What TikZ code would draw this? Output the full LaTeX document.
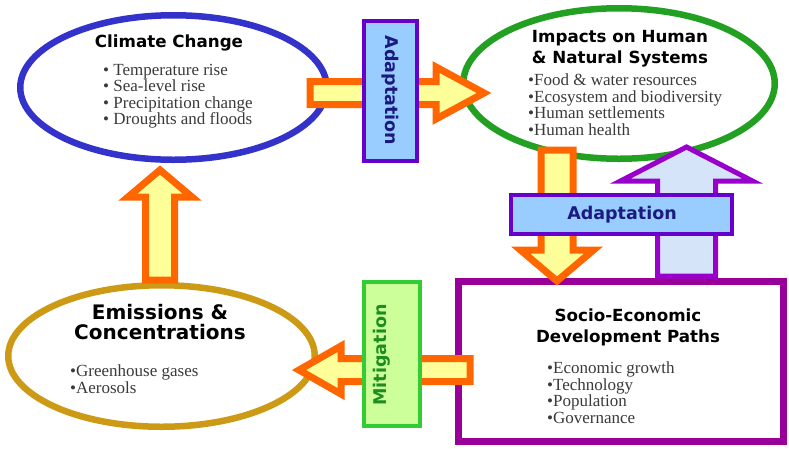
\documentclass[tikz,border=0pt]{standalone}
\usepackage{fontspec}
\setmainfont{Liberation Serif}
\newfontfamily\hfont{DejaVu Sans}
\usetikzlibrary{calc,shapes.geometric}
\definecolor{ccblue}{HTML}{3333CC}
\definecolor{impgreen}{HTML}{22A022}
\definecolor{emgold}{HTML}{CC9A14}
\definecolor{sepurple}{HTML}{990099}
\definecolor{adborder}{HTML}{6600CC}
\definecolor{adfill}{HTML}{99CCFF}
\definecolor{adtext}{HTML}{1A1A80}
\definecolor{miborder}{HTML}{33CC33}
\definecolor{mifill}{HTML}{CCFF99}
\definecolor{mitext}{HTML}{1E8C1E}
\definecolor{arrorange}{HTML}{FF6600}
\definecolor{arryellow}{HTML}{FFFF99}
\definecolor{arrpurple}{HTML}{9900CC}
\definecolor{arrlight}{HTML}{D6E4FA}
\definecolor{bultext}{HTML}{3A3A3A}
% #1 style, #2 start, #3 tip, #4 half shaft width, #5 half head width, #6 head length
\newcommand{\blockarrow}[6]{%
  \coordinate (ba-c) at ($(#3)!#6!(#2)$);
  \draw[#1] ($(#2)!#4!90:(#3)$) -- ($(ba-c)!#4!90:(#3)$) -- ($(ba-c)!#5!90:(#3)$)
    -- (#3) -- ($(ba-c)!#5!-90:(#3)$) -- ($(ba-c)!#4!-90:(#3)$)
    -- ($(#2)!#4!-90:(#3)$) -- cycle;}
\tikzset{
  oval/.style={ellipse, inner sep=0pt, line width=6.5pt},
  orangearrow/.style={draw=arrorange, fill=arryellow, line width=7pt, line join=miter},
  purplearrow/.style={draw=arrpurple, fill=arrlight, line width=5pt, line join=miter},
  adbox/.style={draw=adborder, fill=adfill, line width=4pt, inner sep=0pt},
  mibox/.style={draw=miborder, fill=mifill, line width=4pt, inner sep=0pt},
  title/.style={font=\hfont\bfseries\fontsize{16.7}{21}\selectfont, text=black, align=center},
  bigtitle/.style={font=\hfont\bfseries\fontsize{20}{20}\selectfont, text=black, align=center},
  bul/.style={font=\fontsize{17}{17}\selectfont, text=bultext, anchor=base west, inner sep=0pt},
  adlabel/.style={font=\hfont\bfseries\fontsize{17.5}{17.5}\selectfont, text=adtext},
  milabel/.style={font=\hfont\bfseries\fontsize{17.5}{17.5}\selectfont, text=mitext},
}
\begin{document}
\begin{tikzpicture}[x=1pt, y=-1pt]
\fill[white] (0,0) rectangle (789,448);
\useasboundingbox (0,0) rectangle (789,448);

% main blocks
\node[oval, draw=ccblue, minimum width=306.5pt, minimum height=144.5pt] (cc) at (173.5,87.5) {};
\node[oval, draw=impgreen, minimum width=311.5pt, minimum height=150.5pt] (imp) at (619,83.5) {};
\node[oval, draw=emgold, minimum width=306.5pt, minimum height=141.5pt] (em) at (161.5,356) {};
\node[draw=sepurple, line width=7pt, inner sep=0pt, minimum width=325pt, minimum height=160pt] (se) at (621,361.5) {};

% connector end points
\coordinate (a1s) at (310,93);   \coordinate (a1t) at (484,93);
\coordinate (a2s) at (160,280);  \coordinate (a2t) at (160,170);
\coordinate (a3s) at (470,370);  \coordinate (a3t) at (299,370);
\coordinate (a4s) at (557,150);  \coordinate (a4t) at (557,281);
\coordinate (a5s) at (686.5,276); \coordinate (a5t) at (686.5,147);

\blockarrow{orangearrow}{a1s}{a1t}{11.5pt}{26pt}{48pt}
\blockarrow{orangearrow}{a2s}{a2t}{14.5pt}{32pt}{27pt}
\blockarrow{orangearrow}{a3s}{a3t}{11.5pt}{24pt}{42pt}
\blockarrow{orangearrow}{a4s}{a4t}{16pt}{36.5pt}{31pt}
\blockarrow{purplearrow}{a5s}{a5t}{29pt}{66pt}{34pt}

% label boxes
\node[adbox, minimum width=53pt, minimum height=140pt] (ad1) at (390.5,91) {};
\node[adlabel, rotate=-90] (ad1t) at (390.5,90.5) {Adaptation};
\node[adbox, minimum width=221pt, minimum height=39pt] (ad2) at (621.5,214.5) {};
\node[adlabel] (ad2t) at (622,215) {Adaptation};
\node[mibox, minimum width=56pt, minimum height=144pt] (mi) at (392,354) {};
\node[milabel, rotate=90] (mit) at (382,355) {Mitigation};

% texts
\node[title] (cct) at (169,43) {Climate Change};
\foreach \t [count=\i] in {Temperature rise, Sea-level rise, Precipitation change, Droughts and floods}
  \node[bul] (ccb\i) at (103,{75.5+(\i-1)*16.3}) {• \t};

\node[title] (impt) at (620,48.5) {Impacts on Human\\\& Natural Systems};
\foreach \t [count=\i] in {Food \& water resources, Ecosystem and biodiversity, Human settlements, Human health}
  \node[bul] (impb\i) at (528,{85.5+(\i-1)*16.7}) {•\t};

\node[bigtitle] (emt) at (160,322) {Emissions \&\\Concentrations};
\foreach \t [count=\i] in {Greenhouse gases, Aerosols}
  \node[bul] (emb\i) at (70,{376.5+(\i-1)*17}) {•\t};

\node[title] (set) at (628,327) {Socio-Economic\\Development Paths};
\foreach \t [count=\i] in {Economic growth, Technology, Population, Governance}
  \node[bul] (seb\i) at (547,{373.5+(\i-1)*16.7}) {•\t};
\end{tikzpicture}
\end{document}
